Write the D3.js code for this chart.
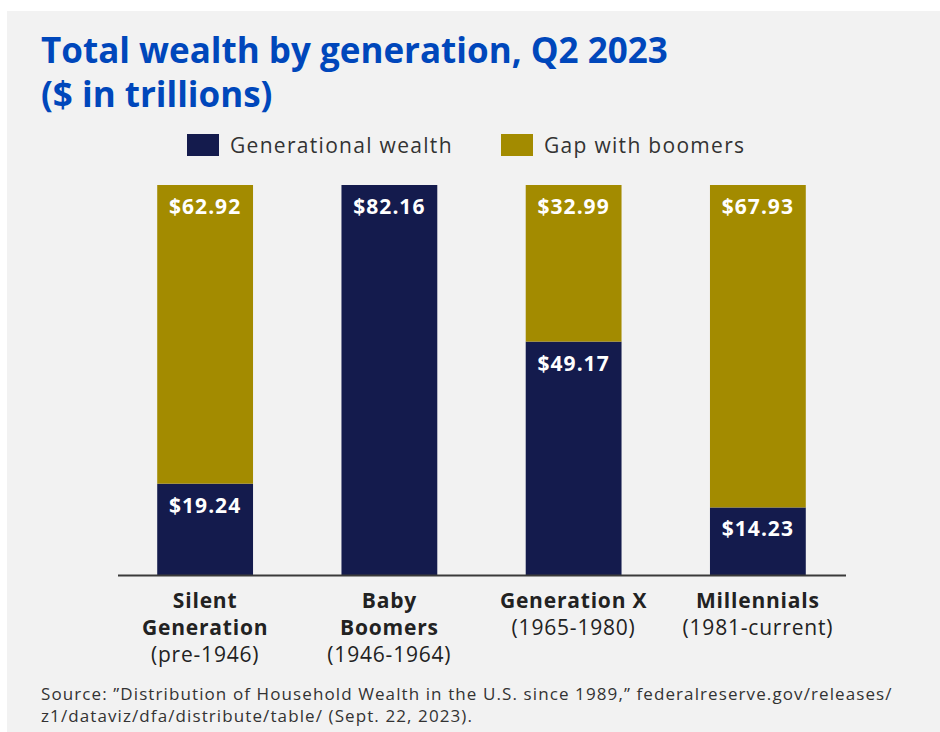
<!DOCTYPE html>
<meta charset="utf-8">
<script src="https://d3js.org/d3.v7.min.js"></script>
<style>
  body { margin: 0; background: #fff; }
  text { font-family: "Open Sans", sans-serif; }
</style>
<div id="chart"></div>
<script>

// data
const generations = ["Silent Generation", "Baby Boomers", "Generation X", "Millennials"];
const wealth = [19.24, 82.16, 49.17, 14.23];
const gap = [62.92, 0, 32.99, 67.93];
const labelBold = [["Silent", "Generation"], ["Baby", "Boomers"], ["Generation X"], ["Millennials"]];
const labelYears = ["(pre-1946)", "(1946-1964)", "(1965-1980)", "(1981-current)"];
const seriesNames = ["Generational wealth", "Gap with boomers"];

const width = 940, height = 732;
const navy = "#141b4d", gold = "#a38b00";

const svg = d3.select("#chart").append("svg")
    .attr("width", width)
    .attr("height", height);

// grey panel
svg.append("rect")
    .attr("x", 7).attr("y", 11)
    .attr("width", width - 7).attr("height", height - 11)
    .attr("fill", "#f2f2f2");

// title
const title = svg.append("text")
    .attr("x", 41).attr("y", 63)
    .attr("fill", "#0047bb")
    .attr("font-weight", 700)
    .attr("font-size", "35px");
title.append("tspan").attr("x", 41).text("Total wealth by generation, Q2 2023");
title.append("tspan").attr("x", 41).attr("dy", 44).text("($ in trillions)");

// scales
const x = d3.scaleBand()
    .domain(generations)
    .range([113, 850])
    .paddingInner(0.48)
    .paddingOuter(0.24);

const y = d3.scaleLinear()
    .domain([0, 82.16])
    .range([575, 185]);

const rows = generations.map((g, i) => ({ gen: g, wealth: wealth[i], gap: gap[i] }));
const stack = d3.stack().keys(["wealth", "gap"])(rows);
const colour = d3.scaleOrdinal().domain(["wealth", "gap"]).range([navy, gold]);

// bars
svg.selectAll("g.layer")
  .data(stack)
  .join("g")
    .attr("class", "layer")
    .attr("fill", d => colour(d.key))
  .selectAll("rect")
  .data(d => d.filter(s => s[1] - s[0] > 0))
  .join("rect")
    .attr("x", d => x(d.data.gen))
    .attr("y", d => y(d[1]))
    .attr("width", x.bandwidth())
    .attr("height", d => y(d[0]) - y(d[1]));

// value labels
svg.selectAll("g.vals")
  .data(stack)
  .join("g")
    .attr("class", "vals")
  .selectAll("text")
  .data(d => d.filter(s => s[1] - s[0] > 0))
  .join("text")
    .attr("x", d => x(d.data.gen) + x.bandwidth() / 2)
    .attr("y", d => y(d[1]) + 29)
    .attr("text-anchor", "middle")
    .attr("fill", "#fff")
    .attr("font-weight", 700)
    .attr("font-size", "21px")
    .attr("letter-spacing", "1px")
    .text(d => "$" + (d[1] - d[0]).toFixed(2));

// baseline
svg.append("line")
    .attr("x1", 118).attr("x2", 846)
    .attr("y1", y(0) + 0.5).attr("y2", y(0) + 0.5)
    .attr("stroke", "#3a3a3a")
    .attr("stroke-width", 2);

// category labels
generations.forEach((g, i) => {
  const cx = x(g) + x.bandwidth() / 2;
  const t = svg.append("text")
      .attr("x", cx)
      .attr("y", 608)
      .attr("text-anchor", "middle")
      .attr("fill", "#222")
      .attr("font-size", "21px")
      .attr("letter-spacing", "0.8px");
  labelBold[i].forEach((line, j) => {
    t.append("tspan")
      .attr("x", cx)
      .attr("dy", j === 0 ? 0 : 27)
      .attr("font-weight", 700)
      .text(line);
  });
  t.append("tspan")
    .attr("x", cx)
    .attr("dy", 27)
    .text(labelYears[i]);
});

// legend
const legendX = [187, 501];
seriesNames.forEach((s, i) => {
  svg.append("rect")
      .attr("x", legendX[i]).attr("y", 134)
      .attr("width", 32).attr("height", 22)
      .attr("fill", i === 0 ? navy : gold);
  svg.append("text")
      .attr("x", legendX[i] + 43).attr("y", 153)
      .attr("fill", "#333")
      .attr("font-size", "21px")
      .attr("letter-spacing", "1.3px")
      .text(s);
});

// source
const src = svg.append("text")
    .attr("x", 41).attr("y", 700)
    .attr("fill", "#333")
    .attr("font-size", "17px")
    .attr("letter-spacing", "1.1px");
src.append("tspan").attr("x", 41)
    .text("Source: \u201dDistribution of Household Wealth in the U.S. since 1989,\u201d federalreserve.gov/releases/");
src.append("tspan").attr("x", 41).attr("dy", 22)
    .text("z1/dataviz/dfa/distribute/table/ (Sept. 22, 2023).");
</script>
